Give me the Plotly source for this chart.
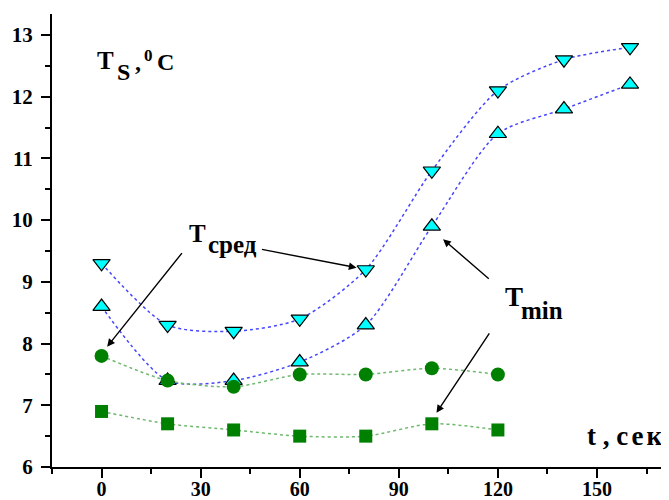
import plotly.graph_objects as go

# ---------------- data ----------------
t_long = [0, 20, 40, 60, 80, 100, 120, 140, 160]
ts_avg_tri = [9.3, 8.3, 8.2, 8.4, 9.2, 10.8, 12.1, 12.6, 12.8]   # ▽ T сред
ts_min_tri = [8.6, 7.4, 7.4, 7.7, 8.3, 9.9, 11.4, 11.8, 12.2]    # △ T min
t_short = [0, 20, 40, 60, 80, 100, 120]
ts_avg_circ = [7.8, 7.4, 7.3, 7.5, 7.5, 7.6, 7.5]                # ● T сред
ts_min_sq = [6.9, 6.7, 6.6, 6.5, 6.5, 6.7, 6.6]                  # ■ T min

x_ticks = [0, 30, 60, 90, 120, 150]
x_minor = [-15, 15, 45, 75, 105, 135, 165]
y_ticks = [6, 7, 8, 9, 10, 11, 12, 13]
y_minor = [6.5, 7.5, 8.5, 9.5, 10.5, 11.5, 12.5]

# ---------------- figure ----------------
OFF = 8                      # page body margin
PAGE_W, PAGE_H = 669, 500
W, H = PAGE_W - OFF, PAGE_H - OFF
PL, PR, PT, PB = 52, 669, 14, 467     # plot area in page pixels
ML, MT = PL - OFF, PT - OFF
MR, MB = PAGE_W - PR, PAGE_H - PB
PW, PH = PR - PL, PB - PT
FONT = "Liberation Serif, Times New Roman, serif"

fig = go.Figure()

blue_line = dict(color="rgb(70,70,255)", width=1.5, dash="dot", shape="spline", smoothing=0.75)
green_line = dict(color="rgb(110,185,110)", width=1.5, dash="dot", shape="spline", smoothing=0.75)

fig.add_trace(go.Scatter(x=t_long, y=ts_avg_tri, mode="lines+markers", line=blue_line,
                         marker=dict(symbol="triangle-down", size=15, color="#00FFFF",
                                     line=dict(color="black", width=1.2))))
fig.add_trace(go.Scatter(x=t_long, y=ts_min_tri, mode="lines+markers", line=blue_line,
                         marker=dict(symbol="triangle-up", size=15, color="#00FFFF",
                                     line=dict(color="black", width=1.2))))
fig.add_trace(go.Scatter(x=t_short, y=ts_avg_circ, mode="lines+markers", line=green_line,
                         marker=dict(symbol="circle", size=14, color="#008000")))
fig.add_trace(go.Scatter(x=t_short, y=ts_min_sq, mode="lines+markers", line=green_line,
                         marker=dict(symbol="square", size=13, color="#008000")))


def px_x(px):
    return (px - PL) / PW


def px_y(py):
    return (PB - py) / PH


def label(text, left, baseline, size):
    return dict(text=text, xref="paper", yref="paper", x=px_x(left - 2), y=px_y(baseline - 0.34 * size),
                xanchor="left", yanchor="middle", showarrow=False,
                font=dict(family=FONT, size=size, color="black", weight="bold"))


annotations = [
    # T_S , 0C
    label("T", 97, 69, 25),
    label("S", 117, 80, 24),
    label(",", 135, 70, 24),
    label("0", 144, 61.5, 17),
    label("C", 157, 70, 24),
    # T сред
    label("T", 189, 242, 25),
    label("сред", 208, 253, 25),
    # T min
    label("T", 505, 306, 27),
    label("min", 520.5, 318.5, 25),
    # axis label
    label('t , <span style="letter-spacing:3px">сек</span>', 586.5, 445, 27),
]

arrows = [  # (tip x, tip y, tail x, tail y) in data units
    (1.7, 7.95, 24.7, 9.49),
    (77.2, 9.23, 48.1, 9.53),
    (103.4, 9.69, 117.7, 9.03),
    (101.4, 6.88, 117.7, 8.19),
]
for tx, ty, sx, sy in arrows:
    annotations.append(dict(x=tx, y=ty, ax=sx, ay=sy, xref="x", yref="y", axref="x", ayref="y",
                            text="", showarrow=True, arrowhead=2, arrowsize=1.1, arrowwidth=1.4,
                            arrowcolor="black", standoff=0, startstandoff=0))

axis_common = dict(showline=True, linewidth=2, linecolor="black", showgrid=False, zeroline=False,
                   ticks="outside", tickwidth=2, tickcolor="black", ticklen=9, automargin=False)

fig.update_layout(
    width=W, height=H,
    margin=dict(l=ML, r=MR, t=MT, b=MB, pad=0, autoexpand=False),
    paper_bgcolor="white", plot_bgcolor="white",
    showlegend=False,
    annotations=annotations,
    xaxis=dict(range=[-15, 171.8], tickmode="array", tickvals=x_ticks, ticklabelstandoff=-6,
               tickfont=dict(family=FONT, size=20, color="black", weight="bold"),
               minor=dict(tickmode="array", tickvals=x_minor, ticks="outside", ticklen=5,
                          tickwidth=2, tickcolor="black"),
               **axis_common),
    yaxis=dict(range=[6, 13.34], tickmode="array", tickvals=y_ticks, ticklabelstandoff=4,
               tickfont=dict(family=FONT, size=21, color="black", weight="bold"),
               minor=dict(tickmode="array", tickvals=y_minor, ticks="outside", ticklen=5,
                          tickwidth=2, tickcolor="black"),
               **axis_common),
)

fig.write_html("out.html")
